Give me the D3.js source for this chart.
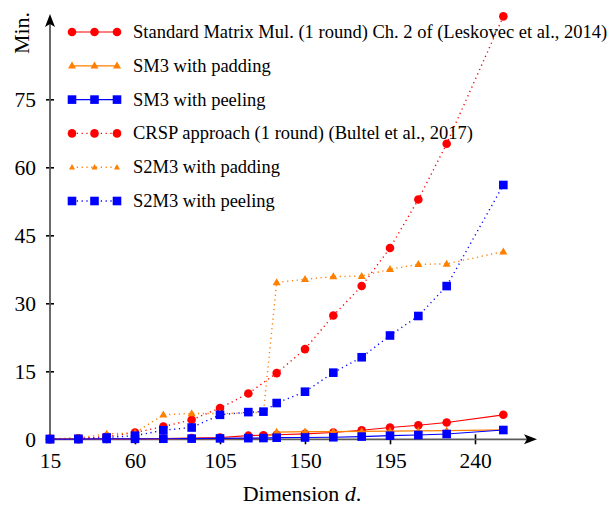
<!DOCTYPE html>
<html><head><meta charset="utf-8">
<script src="https://cdn.jsdelivr.net/npm/d3@7"></script>
<style>
html,body{margin:0;padding:0;background:#fff;}
svg text{font-family:"Liberation Serif","Times New Roman",serif;fill:#000;}
</style></head>
<body>
<svg id="chart" width="612" height="505"></svg>
<script>
// ---- data ----
const dims = [15,30,45,60,75,90,105,120,128,135,150,165,180,195,210,225,255];
const stdMatMul  = [0.02,0.03,0.05,0.1,0.15,0.25,0.4,0.8,0.9,1.0,1.2,1.5,2.0,2.6,3.1,3.7,5.4];
const sm3Padding = [0.02,0.03,0.05,0.08,0.1,0.12,0.15,0.2,0.25,1.6,1.7,1.7,1.75,1.8,1.85,1.9,2.1];
const sm3Peeling = [0.05,0.05,0.08,0.1,0.12,0.15,0.2,0.25,0.28,0.35,0.4,0.45,0.6,0.8,0.95,1.17,2.05];
const crsp       = [0.1,0.2,0.6,1.5,2.8,4.3,6.9,10.1,null,14.6,19.9,27.3,33.8,42.2,52.9,65.2,93.3];
const s2m3Padding= [0.1,0.3,1.2,1.4,5.4,5.7,5.7,5.8,6.0,34.6,35.3,35.9,36.0,37.5,38.6,38.7,41.4];
const s2m3Peeling= [0.05,0.1,0.4,0.8,2.0,2.6,5.4,6.0,6.1,8.0,10.5,14.7,18.1,22.9,27.2,33.8,56.1];
const xTicks = [15,60,105,150,195,240];
const yTicks = [0,15,30,45,60,75];
const seriesNames = [
  "Standard Matrix Mul. (1 round) Ch. 2 of (Leskovec et al., 2014)",
  "SM3 with padding",
  "SM3 with peeling",
  "CRSP approach (1 round) (Bultel et al., 2017)",
  "S2M3 with padding",
  "S2M3 with peeling"
];
const xLabel = "Dimension ";
const yLabel = "Min.";

// ---- setup ----
const series = [
  {name:seriesNames[0], vals:stdMatMul,  color:"#ff0000", shape:"circle",   dotted:false},
  {name:seriesNames[1], vals:sm3Padding, color:"#ff7f00", shape:"triangle", dotted:false},
  {name:seriesNames[2], vals:sm3Peeling, color:"#0000ff", shape:"square",   dotted:false},
  {name:seriesNames[3], vals:crsp,       color:"#ff0000", shape:"circle",   dotted:true},
  {name:seriesNames[4], vals:s2m3Padding,color:"#ff7f00", shape:"triangle", dotted:true},
  {name:seriesNames[5], vals:s2m3Peeling,color:"#0000ff", shape:"square",   dotted:true}
];

const svg = d3.select("#chart");
const x = d3.scaleLinear().domain([15,240]).range([50,475]);
const y = d3.scaleLinear().domain([0,75]).range([439.3,99.3]);
const x0 = x(15), y0 = y(0);

// axes
const axisColor = "#5a5a5a";
const gx = svg.append("g").attr("transform",`translate(0,${y0})`)
  .call(d3.axisBottom(x).tickValues(xTicks).tickSize(0).tickPadding(0).tickFormat(d3.format("d")));
gx.select(".domain").remove();
gx.selectAll(".tick line").attr("y1",-5).attr("y2",5).attr("stroke","#000").attr("stroke-width",1.6);
gx.selectAll(".tick text").attr("y",29).attr("dy",null).attr("font-size",21.5)
  .attr("font-family","Liberation Serif");
gx.selectAll(".tick").filter(d=>d===15).select("line").remove();

const gy = svg.append("g").attr("transform",`translate(${x0},0)`)
  .call(d3.axisLeft(y).tickValues(yTicks).tickSize(0).tickPadding(0));
gy.select(".domain").remove();
gy.selectAll(".tick line").attr("x1",-4).attr("x2",4).attr("stroke","#000").attr("stroke-width",1.6);
gy.selectAll(".tick").filter(d=>d===0).select("line").remove();
gy.selectAll(".tick text").attr("x",-14).attr("dy","0.35em").attr("font-size",21.5)
  .attr("font-family","Liberation Serif").attr("text-anchor","end");

// axis lines with arrows
svg.append("line").attr("x1",x0-2).attr("x2",528).attr("y1",y0).attr("y2",y0)
  .attr("stroke",axisColor).attr("stroke-width",1.8);
svg.append("line").attr("x1",x0).attr("x2",x0).attr("y1",y0+2).attr("y2",24)
  .attr("stroke",axisColor).attr("stroke-width",1.8);
svg.append("path").attr("d",`M537,${y0} L524,${y0-5} L527,${y0} L524,${y0+5} Z`).attr("fill","#000");
svg.append("path").attr("d",`M${x0},14 L${x0-5},27 L${x0},24 L${x0+5},27 Z`).attr("fill","#000");

// axis titles
const xt = svg.append("text").attr("x",302).attr("y",501).attr("text-anchor","middle").attr("font-size",22);
xt.append("tspan").text(xLabel);
xt.append("tspan").attr("font-style","italic").text("d");
xt.append("tspan").text(".");
svg.append("text").attr("transform","translate(29,33) rotate(-90)").attr("text-anchor","middle")
  .attr("font-size",22).text(yLabel);

// marker helper
function drawMarker(g, shape, cx, cy, color, small){
  if(shape==="circle"){
    g.append("circle").attr("cx",cx).attr("cy",cy).attr("r",small?3.8:4.3).attr("fill",color);
  } else if(shape==="square"){
    const s = 8.6;
    g.append("rect").attr("x",cx-s/2).attr("y",cy-s/2).attr("width",s).attr("height",s).attr("fill",color);
  } else {
    const w = small?6:8, h = small?5.5:7;
    g.append("path").attr("d",`M${cx},${cy-h*0.6} L${cx+w/2},${cy+h*0.4} L${cx-w/2},${cy+h*0.4} Z`).attr("fill",color);
  }
}

// series
series.forEach(s=>{
  const pts = dims.map((d,i)=>({d, v:s.vals[i]})).filter(p=>p.v!==null);
  const line = d3.line().x(p=>x(p.d)).y(p=>y(p.v));
  const g = svg.append("g");
  g.append("path").attr("d",line(pts)).attr("fill","none").attr("stroke",s.color)
    .attr("stroke-width",s.dotted?1.4:1.2)
    .attr("stroke-dasharray",s.dotted?"1.2,3.6":null);
  pts.forEach(p=>drawMarker(g,s.shape,x(p.d),y(p.v),s.color,false));
});

// legend
const lg = svg.append("g");
series.forEach((s,i)=>{
  const yy = 32 + i*33.8;
  const g = lg.append("g");
  g.append("line").attr("x1",72).attr("x2",117).attr("y1",yy).attr("y2",yy)
    .attr("stroke",s.color).attr("stroke-width",s.dotted?1.4:1.2)
    .attr("stroke-dasharray",s.dotted?"1.2,3.6":null);
  [72,94.5,117].forEach(cx=>drawMarker(g,s.shape,cx,yy,s.color,s.dotted && s.shape==="triangle"));
  g.append("text").attr("x",133).attr("y",yy+6).attr("font-size",18.5).text(s.name);
});
</script>
</body></html>
